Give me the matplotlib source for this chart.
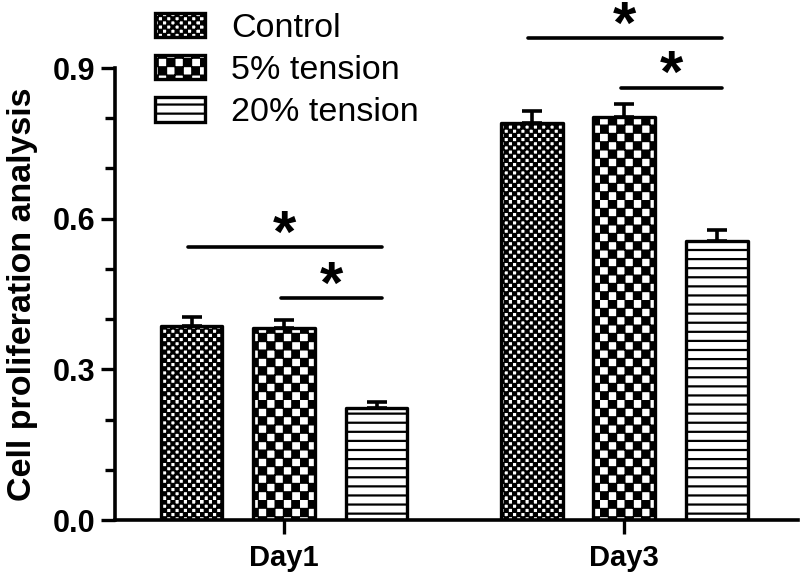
import numpy as np
import matplotlib
matplotlib.use("Agg")
import matplotlib.pyplot as plt
import matplotlib.hatch as mhatch
from matplotlib.ticker import FixedLocator

groups = ["Day1", "Day3"]
series = ["Control", "5% tension", "20% tension"]
means = [[0.387, 0.790],
         [0.382, 0.803],
         [0.223, 0.555]]
errs = [[0.017, 0.025],
        [0.016, 0.025],
        [0.011, 0.023]]
# significance brackets: (group, bar_a, bar_b, height)
sig = [(0, 0, 2, 0.543), (0, 1, 2, 0.442),
       (1, 0, 2, 0.960), (1, 1, 2, 0.861)]


# checkerboard / line hatches (replace the builtin ones for 'x', 'X', '-')
class Checker(mhatch.HatchPatternBase):
    char = "x"
    n = 12
    shrink = 0.006

    def __init__(self, hatch, density):
        self.on = hatch is not None and self.char in hatch
        m = 2 * self.n
        self.num_vertices = (m * m // 2) * 5 if self.on else 0

    def set_vertices_and_codes(self, vertices, codes):
        m = 2 * self.n
        s = 1.0 / m
        d = self.shrink
        verts, cods = [], []
        for i in range(m):
            for j in range(m):
                if (i + j) % 2:
                    continue
                x0, y0 = i * s + d, j * s + d
                x1, y1 = (i + 1) * s - d, (j + 1) * s - d
                verts += [[x0, y0], [x1, y0], [x1, y1], [x0, y1], [x0, y0]]
                cods += [1, 2, 2, 2, 79]
        vertices[:] = verts
        codes[:] = cods


class BigChecker(Checker):
    char = "X"
    n = 6


class Lines(mhatch.HatchPatternBase):
    def __init__(self, hatch, density):
        self.num_lines = 11 if (hatch is not None and "-" in hatch) else 0
        self.num_vertices = self.num_lines * 2

    def set_vertices_and_codes(self, vertices, codes):
        steps = np.linspace(0.0, 1.0, self.num_lines, endpoint=False)
        steps += 0.5 / self.num_lines
        vertices[0::2, 0] = 0.0
        vertices[0::2, 1] = steps
        vertices[1::2, 0] = 1.0
        vertices[1::2, 1] = steps
        codes[0::2] = 1
        codes[1::2] = 2


mhatch._hatch_types[:] = [Checker, BigChecker, Lines]

plt.rcParams["font.family"] = ["Liberation Sans", "DejaVu Sans"]
plt.rcParams["hatch.linewidth"] = 1.6
plt.rcParams["hatch.color"] = "black"

hatches = ["x", "X", "-"]
offsets = [-0.272, 0.0, 0.272]
width = 0.182

fig = plt.figure(figsize=(8, 5.72), dpi=100)
ax = fig.add_axes([0.14375, 0.0909, 0.854, 0.9091])

x = np.arange(len(groups))
for k, name in enumerate(series):
    xs = x + offsets[k]
    ax.errorbar(xs, means[k], yerr=[np.zeros(len(groups)), errs[k]],
                fmt="none", ecolor="black", elinewidth=2.6, capsize=7,
                capthick=2.6, zorder=1)
    ax.bar(xs, means[k], width, color="white", edgecolor="black",
           linewidth=2.4, hatch=hatches[k], label=name, zorder=2,
           joinstyle="round")

for g, a, b, h in sig:
    x0 = g + offsets[a] - 0.01
    x1 = g + offsets[b] + 0.015
    ax.plot([x0, x1], [h, h], color="black", lw=2.6,
            solid_capstyle="round", zorder=3)
    ax.text((x0 + x1) / 2, h - 0.009, "*", ha="center", va="baseline",
            fontsize=43, fontweight="bold", zorder=3)

ax.set_xlim(-0.497, 1.512)
ax.set_ylim(0, 1.0354)
ax.spines["top"].set_visible(False)
ax.spines["right"].set_visible(False)
ax.spines["left"].set_bounds(0, 0.9)
for s in ["left", "bottom"]:
    ax.spines[s].set_linewidth(2.6)

ax.set_xticks(x)
ax.set_xticklabels(groups, fontsize=21, fontweight="bold")
ax.set_yticks([0, 0.3, 0.6, 0.9])
ax.set_yticklabels(["0.0", "0.3", "0.6", "0.9"], fontsize=22,
                   fontweight="bold")
ax.yaxis.set_minor_locator(FixedLocator([0.1, 0.2, 0.4, 0.5, 0.7, 0.8]))
ax.tick_params(axis="y", which="major", direction="out", length=10,
               width=2.4, pad=4)
ax.tick_params(axis="y", which="minor", direction="out", length=7,
               width=2.4)
ax.tick_params(axis="x", which="major", direction="out", length=10,
               width=2.4, pad=7)

ax.set_ylabel("Cell proliferation analysis", fontsize=24.5, fontweight="bold")
ax.yaxis.set_label_coords(-0.113, 0.4346)

leg = ax.legend(loc="upper left", bbox_to_anchor=(0.19, 0.984),
                bbox_transform=fig.transFigure, frameon=False,
                fontsize=24.5, handlelength=1.47, handleheight=0.73,
                handletextpad=0.75, labelspacing=0.33, borderpad=0.1,
                borderaxespad=0)

fig.savefig("out.png", dpi=100)
